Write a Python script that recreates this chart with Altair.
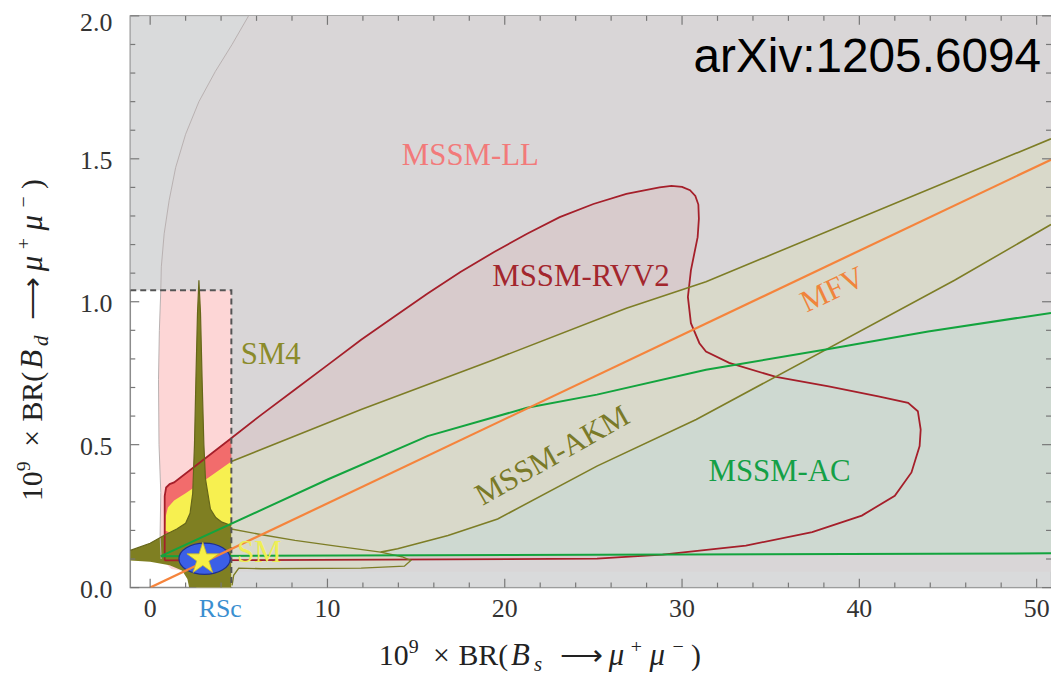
import altair as alt
import pandas as pd

# ---------------- data ----------------
# MSSM-LL region (pink) : left boundary curve then bottom / right edges
ll_x = [5.55, 4.62, 3.68, 2.75, 2.0, 1.44, 1.07, 0.79, 0.63, 0.60, 0.52, 0.47, 0.50, 0.60, 0.56, 0.62, 1.2, 2.2, 50.81, 50.81, 5.55]
ll_y = [2.0, 1.90, 1.806, 1.70, 1.586, 1.47, 1.354, 1.238, 1.122, 1.04, 0.90, 0.727, 0.50, 0.333, 0.182, 0.10, 0.065, 0.055, 0.055, 2.0, 2.0]

# MSSM-RVV2 region (red)
rvv_x = [0.82, 0.82, 0.9, 1.1, 1.35, 4.5, 6.3, 8.17, 10.04, 11.9, 13.78, 15.65, 17.5, 19.4, 21.26, 23.1, 25.0,
         26.86, 28.73, 29.4, 30.0, 30.45, 30.75, 30.92, 30.95, 30.88, 30.5, 30.33, 30.5, 30.98, 31.35, 32.66,
         35.3, 38.27, 41.07, 42.75, 43.3, 43.46, 43.4, 42.94, 42.0, 40.14, 37.34, 33.6, 28.9, 25.2, 0.82]
rvv_y = [0.095, 0.32, 0.35, 0.362, 0.368, 0.519, 0.606, 0.693, 0.78, 0.867, 0.948, 1.029, 1.104, 1.174, 1.238,
         1.296, 1.342, 1.377, 1.40, 1.405, 1.402, 1.39, 1.37, 1.34, 1.29, 1.226, 1.11, 1.017, 0.925, 0.855,
         0.826, 0.786, 0.737, 0.704, 0.669, 0.646, 0.617, 0.553, 0.495, 0.403, 0.321, 0.252, 0.194, 0.147,
         0.115, 0.101, 0.095]

# MSSM-AC region (green)
ac_x = [0.6, 10.04, 15.65, 21.26, 25.2, 31.35, 38.27, 43.88, 50.81, 50.81, 0.6]
ac_y = [0.11, 0.379, 0.53, 0.629, 0.675, 0.762, 0.835, 0.896, 0.961, 0.12, 0.11]
ac_up_x = [0.6, 10.04, 15.65, 21.26, 25.2, 31.35, 38.27, 43.88, 50.81]
ac_up_y = [0.11, 0.379, 0.53, 0.629, 0.675, 0.762, 0.835, 0.896, 0.961]
ac_lo_x = [0.6, 50.81]
ac_lo_y = [0.11, 0.12]

# MSSM-AKM band (yellow), including the SM4 tongue
akm_x = [0.85, 0.88, 1.0, 1.35, 2.0, 3.3, 4.58, 11.9, 19.38, 26.86, 31.35, 50.81, 50.81, 45.37, 30.8, 25.2,
         19.6, 16.8, 13.96, 13.0, 14.2, 14.7, 14.34, 11.9, 6.3, 5.0, 4.71, 4.62, 4.58, 2.6, 2.6, 0.85]
akm_y = [0.2, 0.25, 0.28, 0.305, 0.33, 0.385, 0.441, 0.623, 0.797, 0.977, 1.07, 1.57, 1.27, 1.075, 0.588, 0.425,
         0.24, 0.182, 0.136, 0.124, 0.108, 0.095, 0.075, 0.068, 0.066, 0.068, 0.043, 0.008, 0.0, 0.0, 0.15, 0.2]
akm_up_x = [4.58, 11.9, 19.38, 26.86, 31.35, 50.81]
akm_up_y = [0.441, 0.623, 0.797, 0.977, 1.07, 1.57]
akm_lo_x = [50.81, 45.37, 30.8, 25.2, 19.6, 16.8, 13.96, 13.0]
akm_lo_y = [1.27, 1.075, 0.588, 0.425, 0.24, 0.182, 0.136, 0.124]
tongue_x = [4.58, 6.3, 8.17, 10.5, 13.0, 14.2, 14.7, 14.34, 11.9, 6.3, 5.0, 4.71, 4.62]
tongue_y = [0.205, 0.185, 0.165, 0.145, 0.124, 0.108, 0.095, 0.075, 0.068, 0.066, 0.068, 0.043, 0.008]

# SM4 (dark olive) inside the experimental box
sm4_x = [-1.12, -1.12, 0.0, 0.85, 1.5, 2.0, 2.25, 2.4, 2.5, 2.58, 2.67, 2.75, 2.84, 2.93, 3.03, 3.12, 3.4, 3.7,
         4.05, 4.58, 4.58, 2.2, 2.1, 1.8, 1.1, 0.0, -1.12]
sm4_y = [0.095, 0.13, 0.155, 0.185, 0.205, 0.225, 0.26, 0.33, 0.5, 0.727, 0.96, 1.075, 0.96, 0.727, 0.5, 0.38,
         0.275, 0.245, 0.229, 0.217, 0.0, 0.0, 0.03, 0.06, 0.078, 0.09, 0.095]

# grey veil outside the experimental box, and the dashed box itself
ov_x = [-1.12, 4.58, 4.58, 50.81, 50.81, -1.12, -1.12]
ov_y = [1.04, 1.04, 0.0, 0.0, 2.0, 2.0, 1.04]
box_x = [-1.12, 4.58, 4.58]
box_y = [1.04, 1.04, 0.0]

# MFV line
mfv_x = [0.0, 50.81]
mfv_y = [0.0, 1.497]

# SM point (star) and RSc ellipse
rsc_x, rsc_y = [3.07], [0.101]
sm_x, sm_y = [2.97], [0.10]

# region labels
lab_text = ["MSSM-LL", "MSSM-RVV2", "SM4", "MSSM-AC", "SM"]
lab_x = [18.06, 24.3, 6.8, 35.5, 6.16]
lab_y = [1.51, 1.087, 0.815, 0.404, 0.12]
lab_col = ["#f27a7a", "#a3262d", "#8b8b2a", "#14a046", "#eeee55"]

# ticks and tick labels
x_major = [0, 10, 20, 30, 40, 50]
x_major_lab = ["0", "10", "20", "30", "40", "50"]
x_minor = [2, 4, 6, 8, 12, 14, 16, 18, 22, 24, 26, 28, 32, 34, 36, 38, 42, 44, 46, 48]
y_major = [0.0, 0.5, 1.0, 1.5, 2.0]
y_major_lab = ["0.0", "0.5", "1.0", "1.5", "2.0"]
y_minor = [0.1, 0.2, 0.3, 0.4, 0.6, 0.7, 0.8, 0.9, 1.1, 1.2, 1.3, 1.4, 1.6, 1.7, 1.8, 1.9]

# axis-title pieces: text, offset along the title, align, size, italic, baseline shift
title_pieces = [
    ("10", 0, "left", 30, False, 0),
    ("9", 30, "left", 20, False, -12),
    ("×", 63, "center", 30, False, 0),
    ("BR(", 80, "left", 30, False, 0),
    ("B", 133, "left", 31, True, 0),
    ("SUB", 156, "left", 21, True, 6),
    ("⟶", 204, "center", 30, False, 0),
    ("μ", 239, "center", 31, True, 0),
    ("+", 259, "center", 20, False, -12),
    ("μ", 280, "center", 31, True, 0),
    ("−", 301, "center", 20, False, -12),
    (")", 314, "left", 30, False, 0),
]

# ---------------- chart ----------------
W, H = 926, 575
SERIF = "Liberation Serif"
xsc = alt.Scale(domain=[-1.12, 50.81], nice=False, zero=False)
ysc = alt.Scale(domain=[0.0, 2.0], nice=False, zero=False)


def df_of(xs, ys):
    return pd.DataFrame({"x": xs, "y": ys, "i": list(range(len(xs)))})


def X():
    return alt.X("x:Q", scale=xsc, axis=None)


def Y():
    return alt.Y("y:Q", scale=ysc, axis=None)


def fill(xs, ys, color, opacity=1.0):
    return alt.Chart(df_of(xs, ys)).mark_line(
        fill=color, fillOpacity=opacity, strokeOpacity=0, strokeWidth=0, clip=True
    ).encode(x=X(), y=Y(), order="i:Q")


def outline(xs, ys, color, width=1.8, dash=None):
    kw = dict(color=color, strokeWidth=width, clip=True)
    if dash:
        kw["strokeDash"] = dash
    return alt.Chart(df_of(xs, ys)).mark_line(**kw).encode(x=X(), y=Y(), order="i:Q")


layers = []
layers.append(fill(ll_x, ll_y, "#fdd6d6"))
layers.append(fill(rvv_x, rvv_y, "#f26c6c"))
layers.append(fill(ac_x, ac_y, "#8cf096"))
layers.append(fill(akm_x, akm_y, "#f7f050"))
layers.append(fill(sm4_x, sm4_y, "#7f7f22"))
layers.append(fill(ov_x, ov_y, "#d5d6d7", opacity=0.9))

# outlines
layers.append(outline(ll_x[:16], ll_y[:16], "#b8b0b0", width=1.0))
layers.append(outline(rvv_x, rvv_y, "#a51f2a", width=1.8))
layers.append(outline(akm_up_x, akm_up_y, "#7d7d26", width=1.6))
layers.append(outline(akm_lo_x, akm_lo_y, "#7d7d26", width=1.6))
layers.append(outline(tongue_x, tongue_y, "#7d7d26", width=1.4))
layers.append(outline(sm4_x[1:20], sm4_y[1:20], "#66661a", width=1.2))
layers.append(outline(ac_lo_x, ac_lo_y, "#13a43e", width=2.0))
layers.append(outline(box_x, box_y, "#555555", width=2.0, dash=[6, 4]))

ellipse_path = "M -1 0 A 1 0.61 0 1 1 1 0 A 1 0.61 0 1 1 -1 0 Z"
layers.append(alt.Chart(df_of(rsc_x, rsc_y)).mark_point(
    shape=ellipse_path, size=2663, filled=True, fill="#3b5fe6", stroke="#1e2f8a", strokeWidth=1.2, opacity=1
).encode(x=X(), y=Y()))

layers.append(outline(ac_up_x, ac_up_y, "#13a43e", width=2.0))
layers.append(outline(mfv_x, mfv_y, "#f5843c", width=2.2))

star_path = ("M 0 -1 L 0.2245 -0.309 L 0.951 -0.309 L 0.363 0.118 L 0.588 0.809 L 0 0.382 "
             "L -0.588 0.809 L -0.363 0.118 L -0.951 -0.309 L -0.2245 -0.309 Z")
layers.append(alt.Chart(df_of(sm_x, sm_y)).mark_point(
    shape=star_path, size=1129, filled=True, fill="#f7ef45", stroke="#c9b92a", strokeWidth=0.8, opacity=1
).encode(x=X(), y=Y()))

# region labels
for t, lx, ly, c in zip(lab_text, lab_x, lab_y, lab_col):
    layers.append(alt.Chart(pd.DataFrame({"x": [lx], "y": [ly], "t": [t]})).mark_text(
        font=SERIF, fontSize=31, color=c, align="center", baseline="middle"
    ).encode(x=X(), y=Y(), text="t:N"))

layers.append(alt.Chart(pd.DataFrame({"x": [38.5], "y": [1.04], "t": ["MFV"]})).mark_text(
    font=SERIF, fontSize=31, color="#f0843c", align="center", baseline="middle", angle=334.6
).encode(x=X(), y=Y(), text="t:N"))
layers.append(alt.Chart(pd.DataFrame({"x": [22.7], "y": [0.46], "t": ["MSSM-AKM"]})).mark_text(
    font=SERIF, fontSize=31, color="#7a7a28", align="center", baseline="middle", angle=330.6
).encode(x=X(), y=Y(), text="t:N"))

layers.append(alt.Chart(pd.DataFrame({"x": [50.25], "y": [1.804], "t": ["arXiv:1205.6094"]})).mark_text(
    font="Liberation Sans", fontSize=48, color="#000000", align="right", baseline="alphabetic"
).encode(x=X(), y=Y(), text="t:N"))

# tick labels (through the scales)
layers.append(alt.Chart(pd.DataFrame({"x": x_major, "t": x_major_lab})).mark_text(
    font=SERIF, fontSize=26, color="#333333", align="center", baseline="alphabetic"
).encode(x=X(), y=alt.value(H + 30), text="t:N"))
layers.append(alt.Chart(pd.DataFrame({"y": y_major[:-1], "t": y_major_lab[:-1]})).mark_text(
    font=SERIF, fontSize=26, color="#333333", align="right", baseline="middle", dy=2
).encode(y=Y(), x=alt.value(-18), text="t:N"))
# the top label sits against the upper edge of the page: nudge it down a little
layers.append(alt.Chart(pd.DataFrame({"y": y_major[-1:], "t": y_major_lab[-1:]})).mark_text(
    font=SERIF, fontSize=26, color="#333333", align="right", baseline="middle", dy=7
).encode(y=Y(), x=alt.value(-18), text="t:N"))

# RSc label below the axis
layers.append(alt.Chart(pd.DataFrame({"x": [3.95], "t": ["RSc"]})).mark_text(
    font=SERIF, fontSize=26, color="#3a8fd0", align="center", baseline="alphabetic"
).encode(x=X(), y=alt.value(H + 30), text="t:N"))

# ticks (inward, on all four sides)
TC = "#777777"
for vals, ln in ((x_major, 9), (x_minor, 5)):
    d = pd.DataFrame({"x": vals})
    layers.append(alt.Chart(d).mark_rule(color=TC, strokeWidth=1.2).encode(
        x=X(), y=alt.value(H), y2=alt.value(H - ln)))
    layers.append(alt.Chart(d).mark_rule(color=TC, strokeWidth=1.2).encode(
        x=X(), y=alt.value(0), y2=alt.value(ln)))
for vals, ln in ((y_major, 9), (y_minor, 5)):
    d = pd.DataFrame({"y": vals})
    layers.append(alt.Chart(d).mark_rule(color=TC, strokeWidth=1.2).encode(
        y=Y(), x=alt.value(0), x2=alt.value(ln)))
    layers.append(alt.Chart(d).mark_rule(color=TC, strokeWidth=1.2).encode(
        y=Y(), x=alt.value(W), x2=alt.value(W - ln)))

# axis titles, composed piece by piece so that sub/superscripts can be drawn
one = pd.DataFrame({"a": [0]})


def piece(txt, x, y, size, align, italic, angle):
    return alt.Chart(one).mark_text(
        font=SERIF, fontSize=size, color="#222222", align=align, baseline="alphabetic",
        angle=angle, fontStyle="italic" if italic else "normal"
    ).encode(x=alt.value(x), y=alt.value(y), text=alt.value(txt))


XT_X0, XT_BASE = 250, 653      # x-title start and baseline (plot coords)
YT_Y0, YT_BASE = 488, -89      # y-title start (bottom) and baseline (plot coords)
for txt, d, align, size, italic, shift in title_pieces:
    tx = "s" if txt == "SUB" else txt
    layers.append(piece(tx, XT_X0 + d, XT_BASE + shift, size, align, italic, 0))
    ty = "d" if txt == "SUB" else txt
    layers.append(piece(ty, YT_BASE + shift, YT_Y0 - d, size, align, italic, 270))

chart = alt.layer(*layers).properties(
    width=W, height=H,
    autosize=alt.AutoSizeParams(type="none"),
    padding={"left": 123, "top": 6, "right": 0, "bottom": 89},
).configure_view(stroke="#8c8c8c", strokeWidth=1.5, fill="white")

chart.save("out.html", embed_options={"renderer": "svg", "actions": False})
